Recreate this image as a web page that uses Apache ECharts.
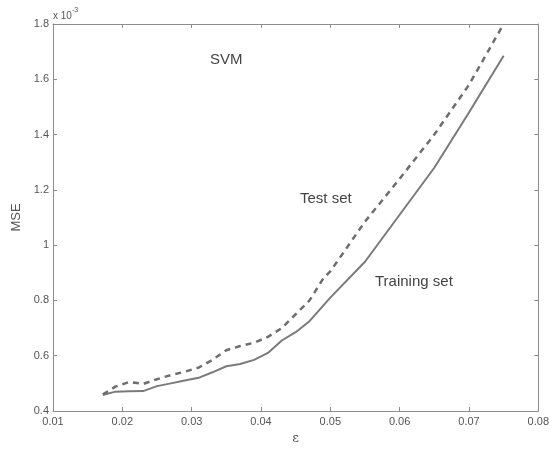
<!DOCTYPE html>
<html>
<head>
<meta charset="utf-8">
<script src="https://cdn.jsdelivr.net/npm/echarts@6/dist/echarts.min.js"></script>
<style>
  html, body { margin: 0; padding: 0; background: #fff; }
  #chart { width: 552px; height: 451px; }
</style>
</head>
<body>
<div id="chart"></div>
<script>
// epsilon values and MSE (in units of 1e-3)
const trainEps = [0.0172, 0.019, 0.021, 0.023, 0.025, 0.027, 0.029, 0.031, 0.033, 0.035, 0.037, 0.039, 0.041, 0.043, 0.045, 0.047, 0.050, 0.055, 0.060, 0.065, 0.070, 0.075];
const trainMSE = [0.458, 0.470, 0.471, 0.472, 0.490, 0.500, 0.510, 0.520, 0.540, 0.562, 0.570, 0.585, 0.610, 0.655, 0.685, 0.725, 0.810, 0.940, 1.110, 1.280, 1.480, 1.685];

const testEps = [0.0172, 0.019, 0.021, 0.023, 0.025, 0.027, 0.029, 0.031, 0.033, 0.035, 0.037, 0.039, 0.041, 0.043, 0.045, 0.047, 0.049, 0.050, 0.055, 0.060, 0.065, 0.070, 0.075];
const testMSE  = [0.460, 0.488, 0.505, 0.498, 0.515, 0.530, 0.542, 0.557, 0.585, 0.620, 0.635, 0.647, 0.668, 0.700, 0.750, 0.800, 0.880, 0.905, 1.085, 1.240, 1.400, 1.580, 1.800];

const xTicks = [0.01, 0.02, 0.03, 0.04, 0.05, 0.06, 0.07, 0.08];
const yTicks = [0.4, 0.6, 0.8, 1, 1.2, 1.4, 1.6, 1.8];

const lineColor = '#7a7a7a';
const axisColor = '#8c8c8c';
const textColor = '#555';
const font = 'Liberation Sans, Arial, Helvetica, sans-serif';

const pairs = (xs, ys) => xs.map((x, i) => [x, ys[i]]);

const chart = echarts.init(document.getElementById('chart'), null, { renderer: 'canvas' });

const baseAxisLine = { show: true, lineStyle: { color: axisColor, width: 1 } };
const baseTick = { show: true, inside: true, length: 4, lineStyle: { color: axisColor } };

chart.setOption({
  animation: false,
  backgroundColor: '#fff',
  grid: { left: 53, right: 9, top: 24, bottom: 40, containLabel: false },
  xAxis: [{
    type: 'value',
    min: xTicks[0], max: xTicks[xTicks.length - 1], interval: 0.01,
    axisLine: baseAxisLine, axisTick: baseTick, splitLine: { show: false },
    axisLabel: {
      color: textColor, fontFamily: font, fontSize: 11, margin: 5,
      formatter: v => +v.toFixed(2) + ''
    },
    name: 'ε', nameLocation: 'middle', nameGap: 20,
    nameTextStyle: { color: textColor, fontFamily: 'DejaVu Serif, serif', fontSize: 13 }
  }, {
    type: 'value', position: 'top',
    min: xTicks[0], max: xTicks[xTicks.length - 1], interval: 0.01,
    axisLine: baseAxisLine, axisTick: baseTick, axisLabel: { show: false }, splitLine: { show: false }
  }],
  yAxis: [{
    type: 'value',
    min: yTicks[0], max: yTicks[yTicks.length - 1], interval: 0.2,
    axisLine: baseAxisLine, axisTick: baseTick, splitLine: { show: false },
    axisLabel: {
      color: textColor, fontFamily: font, fontSize: 11, margin: 4,
      formatter: v => +v.toFixed(1) + ''
    },
    name: 'MSE', nameLocation: 'middle', nameGap: 30, nameRotate: 90,
    nameTextStyle: { color: textColor, fontFamily: font, fontSize: 13 }
  }, {
    type: 'value', position: 'right',
    min: yTicks[0], max: yTicks[yTicks.length - 1], interval: 0.2,
    axisLine: baseAxisLine, axisTick: baseTick, axisLabel: { show: false }, splitLine: { show: false }
  }],
  series: [{
    name: 'Training set', type: 'line', data: pairs(trainEps, trainMSE),
    showSymbol: false, smooth: false,
    lineStyle: { color: lineColor, width: 2 }
  }, {
    name: 'Test set', type: 'line', data: pairs(testEps, testMSE),
    showSymbol: false, smooth: false,
    lineStyle: { color: '#6e6e6e', width: 2.5, type: [6, 5] }
  }],
  graphic: [
    { type: 'text', left: 53, top: 7, style: {
        text: '{a|x 10}{b|-3}', rich: {
          a: { fontFamily: font, fontSize: 10, fill: textColor, verticalAlign: 'bottom', lineHeight: 14 },
          b: { fontFamily: font, fontSize: 7, fill: textColor, verticalAlign: 'top', lineHeight: 14, padding: [0, 0, 6, 0] }
        } } },
    { type: 'text', left: 210, top: 52, style: { text: 'SVM', fontFamily: font, fontSize: 15, fill: '#444' } },
    { type: 'text', left: 300, top: 191, style: { text: 'Test set', fontFamily: font, fontSize: 15, fill: '#444' } },
    { type: 'text', left: 375, top: 274, style: { text: 'Training set', fontFamily: font, fontSize: 15, fill: '#444' } }
  ]
});
</script>
</body>
</html>
